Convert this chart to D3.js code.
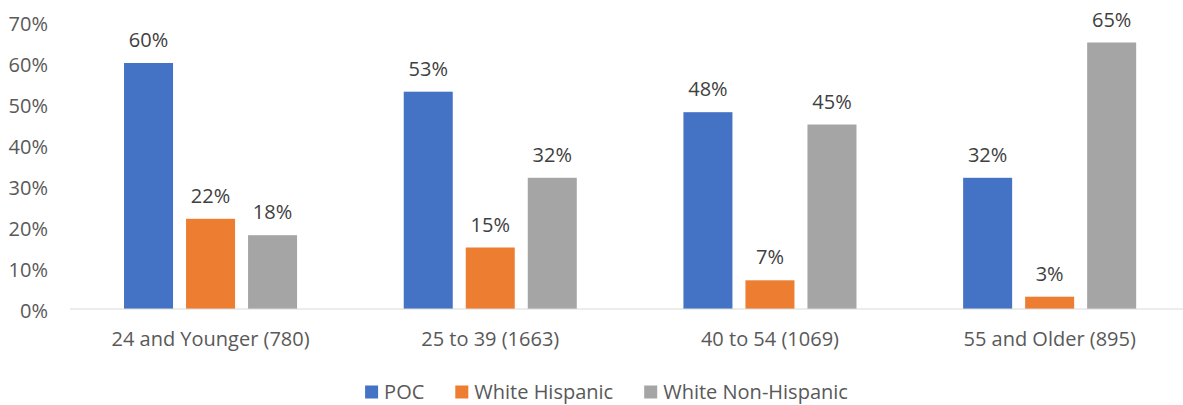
<!DOCTYPE html>
<html>
<head>
<meta charset="utf-8">
<script src="https://cdn.jsdelivr.net/npm/d3@7"></script>
<style>
  html, body { margin: 0; padding: 0; background: #fff; }
  svg { display: block; font-family: "Open Sans", "Noto Sans", sans-serif; }
</style>
</head>
<body>
<svg id="chart" width="1183" height="405"></svg>
<script>
// Age groups (respondent counts in parentheses)
const categories = ["24 and Younger (780)", "25 to 39 (1663)", "40 to 54 (1069)", "55 and Older (895)"];
const seriesNames = ["POC", "White Hispanic", "White Non-Hispanic"];
const seriesColors = ["#4472C4", "#ED7D31", "#A5A5A5"];
// Share of each group, in percent, by series
const poc = [60, 53, 48, 32];
const whiteHispanic = [22, 15, 7, 3];
const whiteNonHispanic = [18, 32, 45, 65];
const yTicks = [0, 10, 20, 30, 40, 50, 60, 70];

const seriesValues = [poc, whiteHispanic, whiteNonHispanic];
const rows = categories.map((c, i) => ({
  category: c,
  values: seriesNames.map((s, j) => ({ series: s, value: seriesValues[j][i], color: seriesColors[j] }))
}));

const svg = d3.select("#chart");
const W = 1183, H = 405;
const plot = { left: 70.7, right: 1189.5, top: 22, bottom: 309 };

const x0 = d3.scaleBand().domain(categories).range([plot.left, plot.right]).paddingInner(0).paddingOuter(0);
const x1 = d3.scaleBand().domain(seriesNames).range([0, x0.bandwidth()]).paddingInner(13 / 62).paddingOuter(0.86);
const y = d3.scaleLinear().domain([0, 70]).range([plot.bottom, plot.top]);

const fontSize = 20;

// Y axis labels (no axis line, no gridlines)
const yAxis = d3.axisLeft(y).tickValues(yTicks).tickFormat(d => d + "%").tickSize(0).tickPadding(0);
const yg = svg.append("g").attr("transform", "translate(48,2)").call(yAxis);
yg.select(".domain").remove();
yg.selectAll("text").attr("font-size", fontSize).attr("fill", "#595959").attr("font-family", "Open Sans");

// Bars
const groups = svg.append("g").selectAll("g").data(rows).join("g")
  .attr("transform", d => `translate(${x0(d.category)},0)`);
groups.selectAll("rect").data(d => d.values).join("rect")
  .attr("x", d => x1(d.series))
  .attr("width", x1.bandwidth())
  .attr("y", d => y(d.value))
  .attr("height", d => y(0) - y(d.value))
  .attr("fill", d => d.color);

// Value labels above bars
groups.selectAll("text.val").data(d => d.values).join("text")
  .attr("class", "val")
  .attr("x", d => x1(d.series) + x1.bandwidth() / 2)
  .attr("y", d => y(d.value) - 23)
  .attr("dy", "0.35em")
  .attr("text-anchor", "middle")
  .attr("font-size", fontSize)
  .attr("fill", "#404040")
  .text(d => d.value + "%");

// Category axis
const xAxis = d3.axisBottom(x0).tickSize(0).tickPadding(0);
const xg = svg.append("g").attr("transform", `translate(0,${plot.bottom})`).call(xAxis);
xg.select(".domain").remove();
xg.append("line").attr("x1", 70).attr("x2", W).attr("y1", 0).attr("y2", 0)
  .attr("stroke", "#d9d9d9").attr("stroke-width", 1.2);
xg.selectAll(".tick text").attr("y", 30).attr("dy", "0.35em")
  .attr("font-size", fontSize).attr("fill", "#595959").attr("font-family", "Open Sans");

// Legend
const legend = svg.append("g");
const items = legend.selectAll("g").data(seriesNames).join("g");
items.append("rect").attr("width", 13).attr("height", 13).attr("y", -6.5)
  .attr("fill", (d, i) => seriesColors[i]);
items.append("text").attr("x", 19).attr("dy", "0.35em")
  .attr("font-size", fontSize).attr("fill", "#595959").text(d => d);
const gap = 31;
let offset = 0;
const positions = [];
items.each(function () {
  positions.push(offset);
  const w = this.getBBox().width;
  offset += w + gap;
});
const totalW = offset - gap;
const startX = 606.5 - totalW / 2;
items.attr("transform", (d, i) => `translate(${startX + positions[i]},392)`);
</script>
</body>
</html>
